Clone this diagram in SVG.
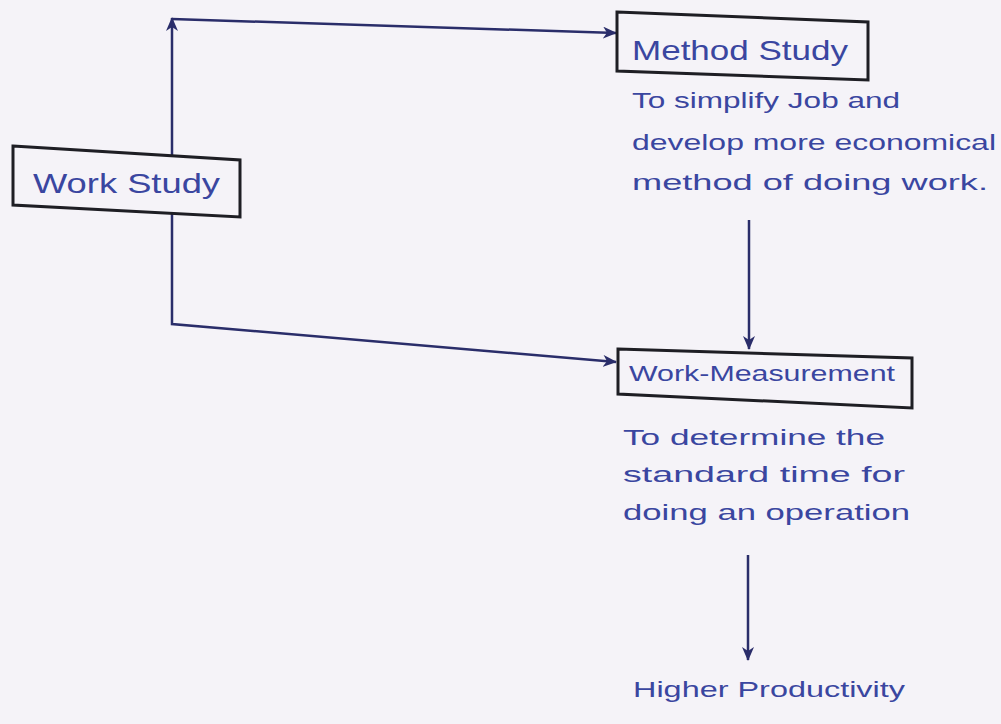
<svg xmlns="http://www.w3.org/2000/svg" width="1001" height="724" viewBox="0 0 1001 724">
  <defs>
    <marker id="arr" viewBox="0 0 14 12" refX="13" refY="6" markerWidth="14" markerHeight="12" markerUnits="userSpaceOnUse" orient="auto">
      <path d="M0,0 L14,6 L0,12 L4,6 Z" fill="#2a2d6a"/>
    </marker>
  </defs>
  <style>
    .box { fill: none; stroke: #1e1e24; stroke-width: 3; stroke-linejoin: miter; }
    .lbl { font-family: "Liberation Sans", "DejaVu Sans", sans-serif; fill: #3a46a0; }
    .title { font-size: 28px; }
    .desc { font-size: 22px; }
    .conn { fill: none; stroke: #2a2d6a; stroke-width: 2.5; }
  </style>
  <rect x="0" y="0" width="1001" height="724" fill="#f5f3f8"/>

  <g id="connectors">
    <path class="conn" d="M172,155 L172,18" marker-end="url(#arr)"/>
    <path class="conn" d="M172,19 L616,33" marker-end="url(#arr)"/>
    <path class="conn" d="M172,213 L172,324 L616,362" marker-end="url(#arr)"/>
    <path class="conn" d="M749,220 L749,349" marker-end="url(#arr)"/>
    <path class="conn" d="M748,555 L748,660" marker-end="url(#arr)"/>
  </g>

  <g id="work-study">
    <polygon class="box" points="13,146 240,160 240,217 13,205"/>
    <text class="lbl title" x="33" y="193" textLength="187" lengthAdjust="spacingAndGlyphs">Work Study</text>
  </g>

  <g id="method-study">
    <polygon class="box" points="617,12 868,22 868,80 617,71"/>
    <text class="lbl title" x="632" y="60" textLength="216" lengthAdjust="spacingAndGlyphs">Method Study</text>
    <text class="lbl desc" x="632" y="108" textLength="268" lengthAdjust="spacingAndGlyphs">To simplify Job and</text>
    <text class="lbl desc" x="632" y="150" textLength="364" lengthAdjust="spacingAndGlyphs">develop more economical</text>
    <text class="lbl desc" x="632" y="190" textLength="356" lengthAdjust="spacingAndGlyphs">method of doing work.</text>
  </g>

  <g id="work-measurement">
    <polygon class="box" points="618,349 912,358 912,408 618,394"/>
    <text class="lbl desc" x="629" y="381" textLength="266" lengthAdjust="spacingAndGlyphs">Work-Measurement</text>
    <text class="lbl desc" x="623" y="445" textLength="262" lengthAdjust="spacingAndGlyphs">To determine the</text>
    <text class="lbl desc" x="623" y="482" textLength="282" lengthAdjust="spacingAndGlyphs">standard time for</text>
    <text class="lbl desc" x="623" y="520" textLength="287" lengthAdjust="spacingAndGlyphs">doing an operation</text>
  </g>

  <g id="higher-productivity">
    <text class="lbl desc" x="633" y="697" textLength="272" lengthAdjust="spacingAndGlyphs">Higher Productivity</text>
  </g>
</svg>
